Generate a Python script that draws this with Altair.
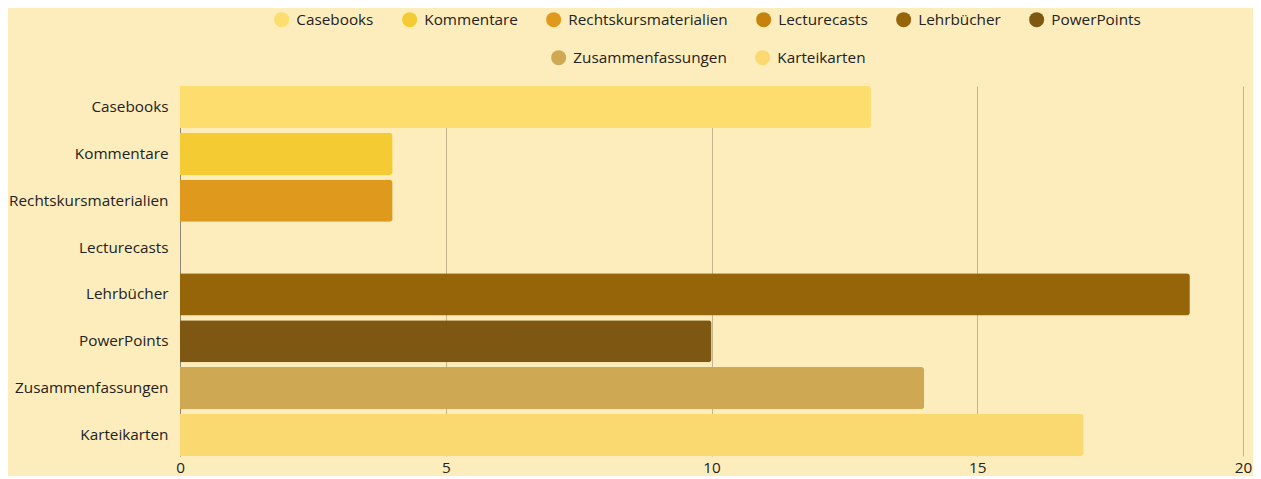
import altair as alt
import pandas as pd

categories = ["Casebooks", "Kommentare", "Rechtskursmaterialien", "Lecturecasts",
              "Lehrbücher", "PowerPoints", "Zusammenfassungen", "Karteikarten"]
values = [13, 4, 4, 0, 19, 10, 14, 17]
colors = ["#FDDD6E", "#F4CB32", "#DF9A1D", "#C6820C",
          "#96650A", "#7E5812", "#CEA852", "#FADA70"]
x_ticks = [0, 5, 10, 15, 20]

row1 = categories[:6]
row2 = categories[6:]

df = pd.DataFrame({"Kategorie": categories, "Wert": values})
df["Kategorie2"] = df["Kategorie"]

FONT = "Open Sans"
FS = 15.3
BG = "#FDEDBD"


def legend(x, y):
    return alt.Legend(title=None, orient="none", direction="horizontal",
                      legendX=x, legendY=y,
                      symbolType="circle", symbolSize=225,
                      symbolStrokeWidth=0, labelOffset=7,
                      columnPadding=28,
                      labelFont=FONT, labelFontSize=FS,
                      labelColor="#222222")


base = alt.Chart(df).encode(
    y=alt.Y("Kategorie:N", sort=categories,
            scale=alt.Scale(domain=categories, paddingInner=0.1, paddingOuter=0),
            axis=alt.Axis(title=None, ticks=False, grid=False, domain=True,
                          domainColor="#8C8778", labelPadding=12,
                          labelFont=FONT, labelFontSize=FS, labelColor="#222222")),
    x=alt.X("Wert:Q", scale=alt.Scale(domain=[0, 20], nice=False),
            axis=alt.Axis(title=None, values=x_ticks, ticks=False, domain=False,
                          grid=True, gridColor="#C4B48A", gridWidth=1,
                          labelFlush=False, labelPadding=4,
                          labelFont=FONT, labelFontSize=FS,
                          labelColor="#222222", format="d")),
)

bars1 = base.mark_bar(cornerRadiusEnd=3).encode(
    color=alt.Color("Kategorie:N",
                    scale=alt.Scale(domain=row1, range=colors[:6]),
                    legend=legend(94, -74))
).transform_filter(alt.FieldOneOfPredicate(field="Kategorie", oneOf=row1))

bars2 = base.mark_bar(cornerRadiusEnd=3).encode(
    fill=alt.Fill("Kategorie2:N",
                  scale=alt.Scale(domain=row2, range=colors[6:]),
                  legend=legend(371, -36))
).transform_filter(alt.FieldOneOfPredicate(field="Kategorie", oneOf=row2))

chart = alt.layer(bars1, bars2).properties(
    width=1063,
    height=370,
    background=BG,
    autosize=alt.AutoSizeParams(type="none"),
    padding={"left": 172, "top": 78, "right": 10, "bottom": 20},
).configure_view(stroke=None)

chart.save("out.html", embed_options={"renderer": "svg", "actions": False})
